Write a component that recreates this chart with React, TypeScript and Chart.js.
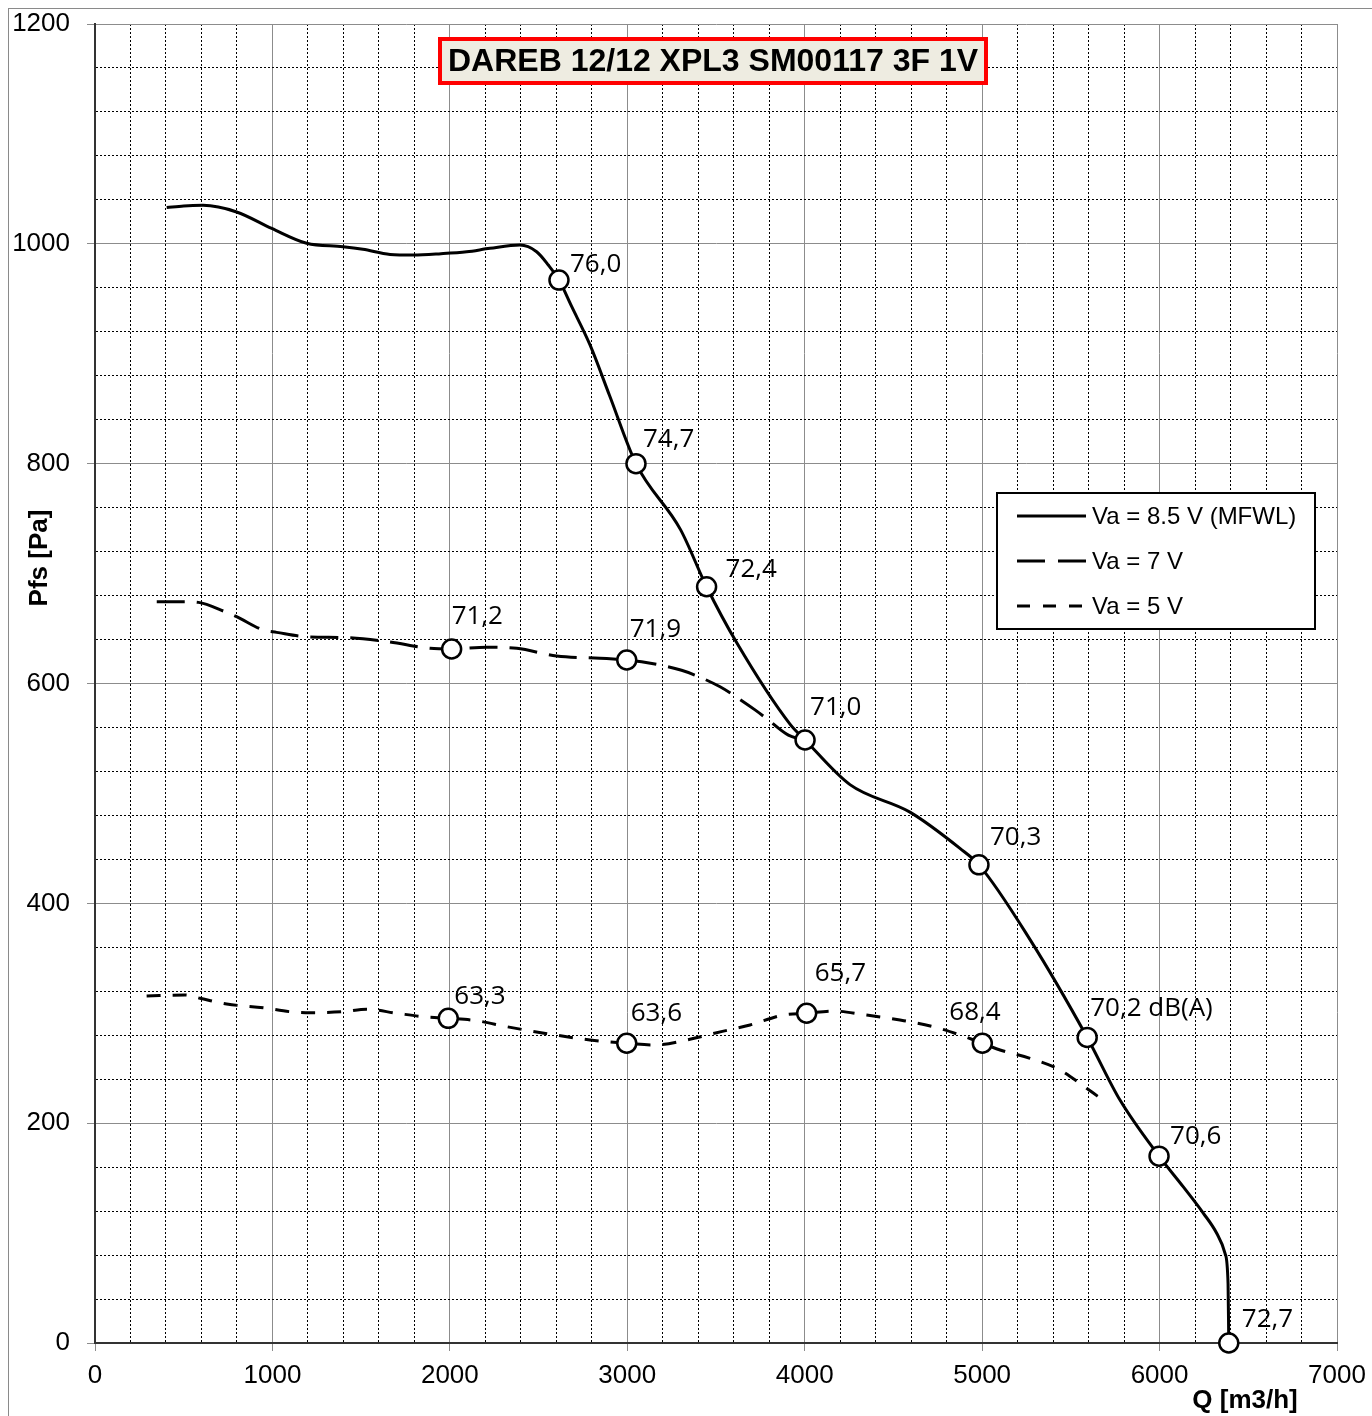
import React, { useEffect, useRef } from 'react';
import { Chart, registerables } from 'chart.js';

Chart.register(...registerables);

// ---- Data ----
const mainQ = [404, 500, 609, 798, 996, 1193, 1398, 1510, 1663, 1793, 1950, 2095, 2226, 2395, 2489, 2555, 2615, 2687, 2790, 2900, 3049, 3300, 3447, 3617, 3917, 4002, 4255, 4593, 4875, 4982, 5270, 5592, 5777, 5997, 6134, 6247, 6322, 6369, 6386, 6390];
const mainP = [1033, 1034.5, 1035, 1029, 1014, 1000.5, 997.4, 995, 990.4, 989.8, 991, 992.8, 995.9, 998.9, 992.8, 980.7, 967, 942.8, 908, 862, 800, 740, 688, 637, 563, 548.6, 508, 483, 450, 435, 367, 278, 221, 170, 142, 118, 99.8, 81.6, 54, 0];

const v7Q = [348, 498, 583, 733, 798, 949, 1024, 1184, 1418, 1653, 1888, 2010, 2207, 2377, 2602, 2846, 2997, 3147, 3306, 3391, 3523, 3598, 3720, 3786, 3908, 4002];
const v7P = [674.4, 674.4, 673.8, 665.3, 660.8, 648.6, 646.5, 642.6, 641.7, 638, 632, 631.4, 633, 632, 625, 623, 621.4, 618, 612, 607, 597, 589.5, 576, 568, 553, 548.6];

const v5Q = [291, 507, 592, 742, 949, 1099, 1212, 1400, 1531, 1700, 1850, 1991, 2151, 2320, 2564, 2790, 2997, 3147, 3353, 3504, 3692, 3879, 4011, 4161, 4349, 4537, 4725, 4875, 5001, 5101, 5270, 5439, 5589, 5681];
const v5P = [315.7, 316.6, 313.6, 308.4, 305, 301.4, 300.5, 301.4, 303.6, 300, 296.9, 295.4, 293.2, 287.8, 281, 275.7, 272.7, 271.1, 276.3, 282.3, 289.3, 298.4, 300, 302, 298.4, 293.8, 287.8, 280.2, 272.7, 266.6, 259, 248.4, 231.7, 221];

const mainMarkQ = [2615, 3049, 3447, 4002, 4982, 5592, 5997, 6390];
const mainMarkP = [967, 800, 688, 548.6, 435, 278, 170, 0];
const mainMarkLabels = ['76,0', '74,7', '72,4', '71,0', '70,3', '70,2 dB(A)', '70,6', '72,7'];

const v7MarkQ = [2010, 2997];
const v7MarkP = [631.4, 621.4];
const v7MarkLabels = ['71,2', '71,9'];

const v5MarkQ = [1991, 2997, 4011, 5001];
const v5MarkP = [295.4, 272.7, 300, 272.7];
const v5MarkLabels = ['63,3', '63,6', '65,7', '68,4'];

const seriesNames = ['Va = 8.5 V (MFWL)', 'Va = 7 V', 'Va = 5 V'];
const titleText = 'DAREB 12/12 XPL3 SM00117 3F 1V';
const xTitle = 'Q [m3/h]';
const yTitle = 'Pfs [Pa]';

// ---- Layout / style (label offsets from marker centre: [dx to text left, dy to text middle]) ----
const mainLabelOffsets = [[11, -16], [7, -24], [19, -17], [5, -32], [11, -27], [3, -29], [11, -20], [13, -23]];
const v7LabelOffsets = [[0, -32], [3, -30]];
const v5LabelOffsets = [[6, -22], [4, -30], [8, -40], [-33, -31]];
const dash7 = [28, 12];
const dash5 = [14, 12];
const gridDots = [2, 2];

const pts = (xs: number[], ys: number[]) => xs.map((x, i) => ({ x, y: ys[i] }));

const labelSets = [
  { labels: mainMarkLabels, offsets: mainLabelOffsets },
  { labels: v7MarkLabels, offsets: v7LabelOffsets },
  { labels: v5MarkLabels, offsets: v5LabelOffsets },
];

const decor = {
  id: 'decor',
  beforeDraw(chart: any) {
    const ctx = chart.ctx;
    ctx.save();
    ctx.fillStyle = '#ffffff';
    ctx.fillRect(0, 0, chart.width, chart.height);
    ctx.strokeStyle = '#8a8a8a';
    ctx.lineWidth = 1;
    ctx.strokeRect(8.5, 8.5, 2000, 2000);
    ctx.restore();
  },
  afterDatasetsDraw(chart: any) {
    const ctx = chart.ctx;
    ctx.save();
    ctx.fillStyle = '#000';
    ctx.font = '26px "Open Sans"';
    ctx.textBaseline = 'middle';
    ctx.textAlign = 'left';
    labelSets.forEach((set, di) => {
      const meta = chart.getDatasetMeta(di);
      meta.data.forEach((pt: any, j: number) => {
        const off = set.offsets[j];
        ctx.fillText(set.labels[j], pt.x + off[0], pt.y + off[1]);
      });
    });
    ctx.restore();
  },
  afterDraw(chart: any) {
    const ctx = chart.ctx;
    ctx.save();
    // title box
    ctx.fillStyle = '#EEECE1';
    ctx.fillRect(440, 39, 546, 44);
    ctx.strokeStyle = '#FF0000';
    ctx.lineWidth = 4;
    ctx.strokeRect(440, 39, 546, 44);
    ctx.fillStyle = '#000';
    ctx.font = 'bold 32px "Liberation Sans"';
    ctx.textAlign = 'center';
    ctx.textBaseline = 'middle';
    ctx.fillText(titleText, 713, 62);

    // legend
    ctx.fillStyle = '#fff';
    ctx.fillRect(997, 493, 318, 136);
    ctx.strokeStyle = '#000';
    ctx.lineWidth = 2;
    ctx.strokeRect(997, 493, 318, 136);
    const dashes = [[], [28, 13], [13, 13]];
    seriesNames.forEach((name, i) => {
      const y = 516 + 45 * i;
      ctx.beginPath();
      ctx.setLineDash(dashes[i]);
      ctx.lineWidth = 3;
      ctx.moveTo(1017, y);
      ctx.lineTo(1086, y);
      ctx.stroke();
      ctx.setLineDash([]);
      ctx.fillStyle = '#000';
      ctx.font = '24px "Liberation Sans"';
      ctx.textAlign = 'left';
      ctx.textBaseline = 'middle';
      ctx.fillText(name, 1092, y + 1);
    });

    // axis titles
    ctx.font = 'bold 26px "Liberation Sans"';
    ctx.textAlign = 'center';
    ctx.textBaseline = 'middle';
    ctx.fillText(xTitle, 1245, 1401);
    ctx.translate(40, 558);
    ctx.rotate(-Math.PI / 2);
    ctx.fillText(yTitle, 0, 0);
    ctx.restore();
  },
};

export default function App() {
  const ref = useRef<HTMLCanvasElement>(null);
  useEffect(() => {
    const canvas = ref.current!;
    const markerStyle = {
      showLine: false,
      pointRadius: 9.5,
      pointHoverRadius: 9.5,
      pointBorderWidth: 2.5,
      pointBackgroundColor: '#ffffff',
      pointBorderColor: '#000000',
      clip: false as any,
    };
    const lineStyle = {
      borderColor: '#000000',
      borderWidth: 3,
      pointRadius: 0,
      cubicInterpolationMode: 'monotone' as const,
      fill: false,
    };
    const majorX = (v: number) => Math.round(v) % 1000 === 0;
    const majorY = (v: number) => Math.round(v) % 200 === 0;
    const chart = new Chart(canvas, {
      type: 'line',
      data: {
        datasets: [
          { label: 'm1', data: pts(mainMarkQ, mainMarkP), ...markerStyle },
          { label: 'm2', data: pts(v7MarkQ, v7MarkP), ...markerStyle },
          { label: 'm3', data: pts(v5MarkQ, v5MarkP), ...markerStyle },
          { label: seriesNames[0], data: pts(mainQ, mainP), ...lineStyle },
          { label: seriesNames[1], data: pts(v7Q, v7P), ...lineStyle, borderDash: dash7 },
          { label: seriesNames[2], data: pts(v5Q, v5P), ...lineStyle, borderDash: dash5 },
        ] as any,
      },
      options: {
        responsive: false,
        animation: false,
        devicePixelRatio: 1,
        layout: { padding: { left: 0, right: 35, top: 24, bottom: 0 } },
        plugins: { legend: { display: false }, tooltip: { enabled: false } },
        scales: {
          x: {
            type: 'linear',
            min: 0,
            max: 7000,
            afterFit: (s: any) => {
              s.height = 73;
              s.paddingLeft = 0;
              s.paddingRight = 0;
              s.paddingTop = 0;
              s.paddingBottom = 0;
            },
            ticks: {
              stepSize: 200,
              autoSkip: false,
              maxRotation: 0,
              padding: 9,
              color: '#000',
              font: { family: '"Liberation Sans"', size: 26 },
              callback: (v: any) => (majorX(Number(v)) ? String(Math.round(Number(v))) : ''),
            },
            grid: {
              color: (c: any) => (majorX(c.tick.value) ? '#8c8c8c' : '#000000'),
              tickColor: (c: any) => (majorX(c.tick.value) ? '#8c8c8c' : 'rgba(0,0,0,0)'),
              tickLength: 8,
              lineWidth: 1,
            },
            border: {
              display: true,
              color: '#333333',
              width: 2,
              dash: (c: any) => (c.tick && majorX(c.tick.value) ? [] : gridDots),
            } as any,
          },
          y: {
            type: 'linear',
            min: 0,
            max: 1200,
            afterFit: (s: any) => {
              s.width = 95;
              s.paddingLeft = 0;
              s.paddingRight = 0;
              s.paddingTop = 0;
              s.paddingBottom = 0;
            },
            ticks: {
              stepSize: 40,
              autoSkip: false,
              padding: 17,
              color: '#000',
              font: { family: '"Liberation Sans"', size: 26 },
              callback: (v: any) => (majorY(Number(v)) ? String(Math.round(Number(v))) : ''),
            },
            grid: {
              color: (c: any) => (majorY(c.tick.value) ? '#8c8c8c' : '#000000'),
              tickColor: (c: any) => (majorY(c.tick.value) ? '#8c8c8c' : 'rgba(0,0,0,0)'),
              tickLength: 8,
              lineWidth: 1,
            },
            border: {
              display: true,
              color: '#333333',
              width: 2,
              dash: (c: any) => (c.tick && majorY(c.tick.value) ? [] : gridDots),
            } as any,
          },
        },
      } as any,
      plugins: [decor],
    });
    return () => chart.destroy();
  }, []);
  return (
    <div style={{ position: 'absolute', left: 0, top: 0, width: 1372, height: 1416 }}>
      <canvas ref={ref} width={1372} height={1416} style={{ display: 'block', width: 1372, height: 1416 }} />
    </div>
  );
}
